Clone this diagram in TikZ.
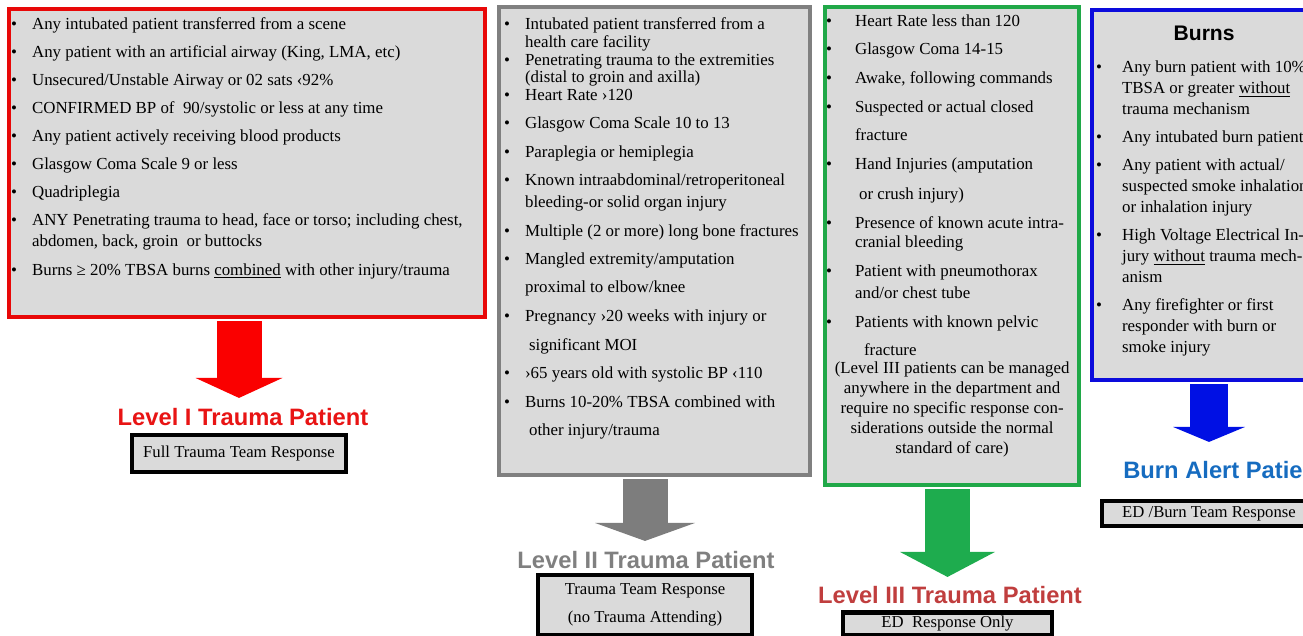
\documentclass[tikz,border=0pt]{standalone}
\usepackage{fontspec}
\setmainfont{Liberation Serif}
\newfontfamily\headfont{Liberation Sans}
\usepackage{enumitem}
\usetikzlibrary{arrows.meta}
\setlist[itemize]{label=\textbullet, topsep=0pt, partopsep=0pt, parsep=0pt, itemsep=4.2pt}
\definecolor{boxgray}{RGB}{218,218,218}
\definecolor{redline}{RGB}{232,8,8}
\definecolor{grayline}{RGB}{128,128,128}
\definecolor{greenline}{RGB}{32,168,72}
\definecolor{blueline}{RGB}{12,12,220}
\definecolor{arrowred}{RGB}{250,0,0}
\definecolor{arrowgray}{RGB}{125,125,125}
\definecolor{arrowgreen}{RGB}{30,172,78}
\definecolor{arrowblue}{RGB}{0,16,228}
\definecolor{labred}{RGB}{232,20,20}
\definecolor{labgray}{RGB}{128,128,128}
\definecolor{labdkred}{RGB}{192,62,62}
\definecolor{labblue}{RGB}{22,108,192}

\begin{document}
\begin{tikzpicture}[
	x=0.2mm,y=-0.2mm,
	critbox/.style={
		anchor=north west,
		inner sep=0pt,
		fill=boxgray,
		line width=2.4pt
	},
	patlabel/.style={
		inner sep=0pt,
		font={\headfont\bfseries\fontsize{13.5}{16}\selectfont}
	},
	respbox/.style={
		draw=black,
		line width=2.6pt,
		fill=boxgray,
		inner sep=0pt,
		align=center,
		font={\fontsize{9.5}{12}\selectfont}
	},
	bigarrow/.style={
		line width=9mm,
		shorten <=0.4mm
	}
	]
	
	\useasboundingbox (0,0) rectangle (1303,636);
	\clip (0,0) rectangle (1303,636);
	
	% Criteria boxes
	\node[critbox,draw=redline] (levelI) at (7,7) {\parbox[t][61.6mm][t]{95.2mm}{%
			\fontsize{9.6}{12}\selectfont\raggedright\vspace*{4.6pt}
			\begin{itemize}[leftmargin=4.6mm,labelsep=3mm,itemsep=4pt]
				\item Any intubated patient transferred from a scene
				\item Any patient with an artificial airway (King, LMA, etc)
				\item Unsecured/Unstable Airway or 02 sats ‹92\%
				\item CONFIRMED BP of~ 90/systolic or less at any time
				\item Any patient actively receiving blood products
				\item Glasgow Coma Scale 9 or less
				\item Quadriplegia
				\item ANY Penetrating trauma to head, face or torso; including chest,\\
				abdomen, back, groin~ or buttocks
				\item Burns ≥ 20\% TBSA burns \underline{combined} with other injury/trauma
			\end{itemize}}};
	
	\node[critbox,draw=grayline] (levelII) at (497,5) {\parbox[t][93.6mm][t]{62.2mm}{%
			\fontsize{9.6}{12}\selectfont\raggedright\vspace*{5.8pt}
			\begin{itemize}[leftmargin=5.2mm,labelsep=3mm,itemsep=-1.8pt]
				\item Intubated patient transferred from a\\[-1.8pt]
				health care facility
				\item Penetrating trauma to the extremities\\[-1.8pt]
				(distal to groin and axilla)
				\item Heart Rate ›120
			\end{itemize}
			\vspace{3.9pt}
			\begin{itemize}[leftmargin=5.2mm,labelsep=3mm]
				\item Glasgow Coma Scale 10 to 13
				\item Paraplegia or hemiplegia
				\item Known intraabdominal/retroperitoneal\\[0.5pt]
				bleeding-or solid organ injury
				\item Multiple (2 or more) long bone fractures
				\item Mangled extremity/amputation\\[4pt]
				proximal to elbow/knee
				\item Pregnancy ›20 weeks with injury or\\[4.4pt]
				\hspace*{0.8mm}significant MOI
				\item ›65 years old with systolic BP ‹110
				\item Burns 10-20\% TBSA combined with\\[4pt]
				\hspace*{0.8mm}other injury/trauma
			\end{itemize}}};
	
	\node[critbox,draw=greenline] (levelIII) at (823,5) {\parbox[t][95.6mm][t]{50.8mm}{%
			\fontsize{9.6}{12}\selectfont\raggedright\vspace*{4.1pt}
			\begin{itemize}[leftmargin=6mm,labelsep=4.6mm,itemsep=4.4pt]
				\item Heart Rate less than 120
				\item Glasgow Coma 14-15
				\item Awake, following commands
				\item Suspected or actual closed\\[4pt]
				fracture
				\item Hand Injuries (amputation\\[5pt]
				\hspace*{0.8mm}or crush injury)
				\item Presence of known acute intra-\\[-0.7pt]
				cranial bleeding
				\item Patient with pneumothorax\\[0.5pt]
				and/or chest tube
				\item Patients with known pelvic\\[4pt]
				\hspace*{1.8mm}fracture
			\end{itemize}
			\vspace{-1.1pt}
			{\centering\fontsize{9.6}{11.3}\selectfont
				(Level III patients can be managed\\
				anywhere in the department and\\
				require no specific response con-\\
				siderations outside the normal\\
				standard of care)\par}}};
	
	\node[critbox,draw=blueline] (burns) at (1090,8) {\parbox[t][74mm][t]{44.8mm}{%
			\fontsize{9.6}{12}\selectfont\vspace*{9.3pt}
			{\centering\headfont\bfseries\fontsize{12}{14}\selectfont Burns\par}
			\raggedright\vspace{5.9pt}
			\begin{itemize}[leftmargin=6mm,labelsep=4mm,itemsep=3.9pt,rightmargin=-8mm]
				\item Any burn patient with 10\%\\
				TBSA or greater \underline{without}\\
				trauma mechanism
				\item Any intubated burn patient
				\item Any patient with actual/\\
				suspected smoke inhalation\\
				or inhalation injury
				\item High Voltage Electrical In-\\
				jury \underline{without} trauma mech-\\
				anism
				\item Any firefighter or first\\
				responder with burn or\\
				smoke injury
			\end{itemize}}};
	
	% Patient levels
	\node[patlabel,text=labred] (patI) at (243,417) {Level I Trauma Patient};
	\node[patlabel,text=labgray] (patII) at (646,560) {Level II Trauma Patient};
	\node[patlabel,text=labdkred] (patIII) at (950,595) {Level III Trauma Patient};
	\node[patlabel,text=labblue,anchor=west] (patburn) at (1123,470) {Burn Alert Patient};
	
	% Responses
	\node[respbox,minimum width=42.8mm,minimum height=7.4mm] (respI) at (239,453.5) {Full Trauma Team Response};
	\node[respbox,minimum width=42.8mm,minimum height=12mm] (respII) at (645,605) {Trauma Team Response\\[4.2pt](no Trauma Attending)};
	\node[respbox,minimum width=41.8mm,minimum height=4.6mm] (respIII) at (947.5,624) {ED~ Response Only};
	\node[respbox,minimum width=42.8mm,minimum height=5mm] (respburn) at (1209,513.5) {ED /Burn Team Response};
	
	% Block arrows
	\draw[bigarrow,draw=arrowred,-{Triangle[width=17.4mm,length=4mm,line width=0pt]},shorten >=2mm]
	(levelI.south -| respI.north) --
	(patI.north -| respI.north);
	
	\draw[bigarrow,draw=arrowgray,-{Triangle[width=20mm,length=3.6mm,line width=0pt]},shorten >=2mm]
	(levelII.south -| respII.north) --
	(patII.north -| respII.north);
	
	\draw[bigarrow,draw=arrowgreen,-{Triangle[width=19mm,length=5mm,line width=0pt]},shorten >=1.8mm]
	(levelIII.south -| respIII.north) --
	(patIII.north -| respIII.north);
	
	\draw[bigarrow,line width=7.6mm,draw=arrowblue,-{Triangle[width=14.4mm,length=3mm,line width=0pt]},shorten >=3.8mm]
	(burns.south -| respburn.north) --
	(patburn.north -| respburn.north);
	
\end{tikzpicture}
\end{document}
